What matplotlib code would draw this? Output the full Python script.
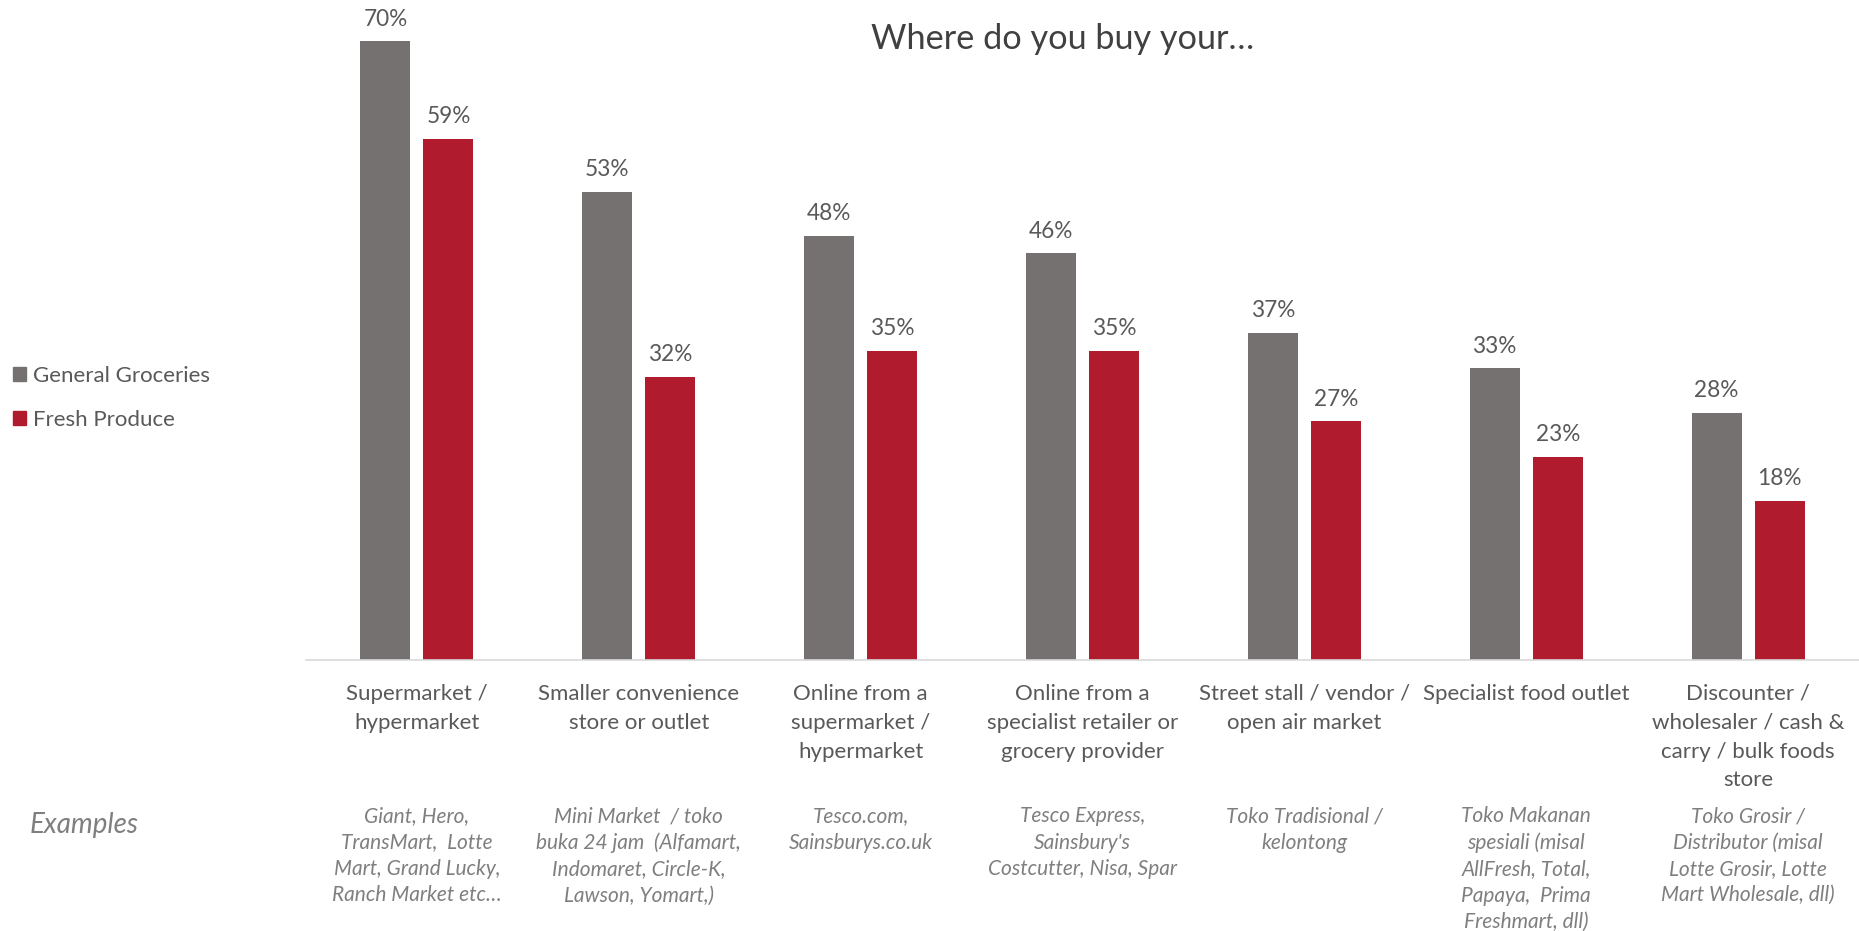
import numpy as np
import matplotlib
matplotlib.use("Agg")
import matplotlib.pyplot as plt
from matplotlib.patches import Patch

plt.rcParams['font.family'] = ['Lato', 'DejaVu Sans']

# ---- 数据 ----
categories = [
    "Supermarket /\nhypermarket",
    "Smaller convenience\nstore or outlet",
    "Online from a\nsupermarket /\nhypermarket",
    "Online from a\nspecialist retailer or\ngrocery provider",
    "Street stall / vendor /\nopen air market",
    "Specialist food outlet",
    "Discounter /\nwholesaler / cash &\ncarry / bulk foods\nstore",
]
examples = [
    "Giant, Hero,\nTransMart,  Lotte\nMart, Grand Lucky,\nRanch Market etc…",
    "Mini Market  / toko\nbuka 24 jam  (Alfamart,\nIndomaret, Circle-K,\nLawson, Yomart,)",
    "Tesco.com,\nSainsburys.co.uk",
    "Tesco Express,\nSainsbury's\nCostcutter, Nisa, Spar",
    "Toko Tradisional /\nkelontong",
    "Toko Makanan\nspesiali (misal\nAllFresh, Total,\nPapaya,  Prima\nFreshmart, dll)",
    "Toko Grosir /\nDistributor (misal\nLotte Grosir, Lotte\nMart Wholesale, dll)",
]
general = [0.70, 0.53, 0.48, 0.46, 0.37, 0.33, 0.28]
fresh = [0.59, 0.32, 0.35, 0.35, 0.27, 0.23, 0.18]
series_names = ["General Groceries", "Fresh Produce"]

GRAY = "#767171"
RED = "#B01C2E"
TXT = "#595959"
EXT = "#7F7F7F"

W, H = 1859, 931
fig = plt.figure(figsize=(W / 100, H / 100), dpi=100)
ax = fig.add_axes([306 / W, (H - 660) / H, (W - 306) / W, 654 / H])

x = np.arange(len(categories))
bw = 0.225
off = 0.142
b1 = ax.bar(x - off, general, bw, color=GRAY)
b2 = ax.bar(x + off, fresh, bw, color=RED)

for bars in (b1, b2):
    ax.bar_label(bars, labels=[f"{v:.0%}" for v in bars.datavalues],
                 padding=8.5, fontsize=16.3, color=TXT, clip_on=False)

ax.set_xlim(-0.5, len(categories) - 0.5)
ax.set_ylim(0, 0.74)
ax.set_yticks([])
for s in ("top", "right", "left"):
    ax.spines[s].set_visible(False)
ax.spines["bottom"].set_color("#D9D9D9")
ax.spines["bottom"].set_linewidth(1.2)

ax.set_xticks(x)
ax.set_xticklabels(categories, fontsize=16, color=TXT, linespacing=1.56)
ax.tick_params(axis="x", length=0, pad=17)

# 例子（斜体）
trans = ax.get_xaxis_transform()
for xi, ex in zip(x, examples):
    ax.text(xi, -0.224, ex, transform=trans, ha="center", va="top",
            fontsize=15, style="italic", color=EXT, linespacing=1.38)
fig.text(30 / W, 1 - 825 / H, "Examples", ha="left", va="center",
         fontsize=20, style="italic", color=EXT)

# 标题
fig.text(1063 / W, 1 - 39 / H, "Where do you buy your…", ha="center",
         va="center", fontsize=24.7, color="#404040")

# 图例
handles = [Patch(color=GRAY), Patch(color=RED)]
fig.legend(handles, series_names, loc="center left",
           bbox_to_anchor=(2 / W, 1 - 398 / H), frameon=False,
           fontsize=16, labelcolor=TXT, handlelength=0.6, handleheight=0.6,
           handletextpad=0.3, labelspacing=1.07, borderpad=0)

fig.savefig("out.png", dpi=100)
